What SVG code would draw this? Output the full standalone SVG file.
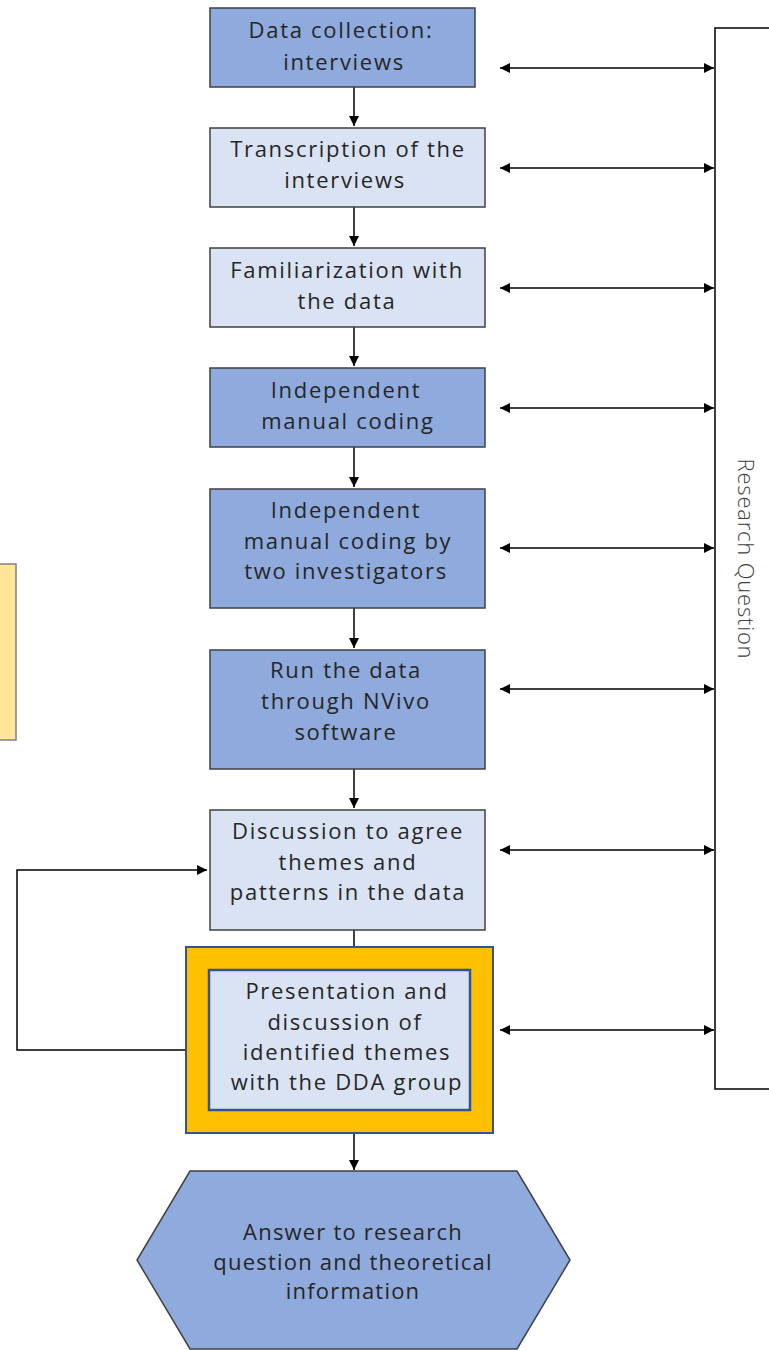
<svg xmlns="http://www.w3.org/2000/svg" width="769" height="1350" viewBox="0 0 769 1350">
<style>
.dark{fill:#8FAADC;stroke:#404040;stroke-width:1.5}
.light{fill:#DAE3F3;stroke:#404040;stroke-width:1.5}
.t{font-family:"Open Sans","Liberation Sans",sans-serif;font-size:22px;font-weight:500;fill:#262626;text-anchor:middle;letter-spacing:1.7px}
.h{letter-spacing:1.2px}
.c{fill:none;stroke:#000;stroke-width:1.5}
</style>
<defs>
<marker id="ah2" viewBox="0 0 10 10" refX="10" refY="5" markerWidth="11" markerHeight="10" markerUnits="userSpaceOnUse" orient="auto-start-reverse">
<path d="M0,0 L10,5 L0,10 z" fill="#000"/>
</marker>
</defs>
<g id="note">
<rect x="-5" y="564" width="21" height="176" fill="#FFE699" stroke="#7F7F7F" stroke-width="1.5"/>
</g>
<g id="connectors">
<path class="c" d="M354,87 V126" marker-end="url(#ah2)"/>
<path class="c" d="M354,207 V246" marker-end="url(#ah2)"/>
<path class="c" d="M354,327 V366" marker-end="url(#ah2)"/>
<path class="c" d="M354,447 V487" marker-end="url(#ah2)"/>
<path class="c" d="M354,608 V648" marker-end="url(#ah2)"/>
<path class="c" d="M354,769 V808" marker-end="url(#ah2)"/>
<path class="c" d="M354,930 V947"/>
<path class="c" d="M354,1133 V1170" marker-end="url(#ah2)"/>
<path class="c" d="M186,1050 H17 V870 H207" marker-end="url(#ah2)"/>
<path class="c" d="M769,28 H715 V1089 H769"/>
<path class="c" d="M500,68 H714" marker-start="url(#ah2)" marker-end="url(#ah2)"/>
<path class="c" d="M500,168 H714" marker-start="url(#ah2)" marker-end="url(#ah2)"/>
<path class="c" d="M500,288 H714" marker-start="url(#ah2)" marker-end="url(#ah2)"/>
<path class="c" d="M500,408 H714" marker-start="url(#ah2)" marker-end="url(#ah2)"/>
<path class="c" d="M500,548 H714" marker-start="url(#ah2)" marker-end="url(#ah2)"/>
<path class="c" d="M500,689 H714" marker-start="url(#ah2)" marker-end="url(#ah2)"/>
<path class="c" d="M500,850 H714" marker-start="url(#ah2)" marker-end="url(#ah2)"/>
<path class="c" d="M500,1030 H714" marker-start="url(#ah2)" marker-end="url(#ah2)"/>
</g>
<g id="n1">
<rect class="dark" x="210" y="8" width="265" height="79"/>
<text class="t" x="341" y="38">Data collection:</text>
<text class="t" x="344" y="70">interviews</text>
</g>
<g id="n2">
<rect class="light" x="210" y="128" width="275" height="79"/>
<text class="t" x="348" y="157">Transcription of the</text>
<text class="t" x="345" y="188">interviews</text>
</g>
<g id="n3">
<rect class="light" x="210" y="248" width="275" height="79"/>
<text class="t" x="347" y="278">Familiarization with</text>
<text class="t" x="347" y="309">the data</text>
</g>
<g id="n4">
<rect class="dark" x="210" y="368" width="275" height="79"/>
<text class="t" x="346" y="398">Independent</text>
<text class="t" x="348" y="429">manual coding</text>
</g>
<g id="n5">
<rect class="dark" x="210" y="489" width="275" height="119"/>
<text class="t" x="346" y="518">Independent</text>
<text class="t" x="348" y="549">manual coding by</text>
<text class="t" x="346" y="579">two investigators</text>
</g>
<g id="n6">
<rect class="dark" x="210" y="650" width="275" height="119"/>
<text class="t" x="346" y="678">Run the data</text>
<text class="t" x="346" y="709">through NVivo</text>
<text class="t" x="346" y="740">software</text>
</g>
<g id="n7">
<rect class="light" x="210" y="810" width="275" height="120"/>
<text class="t" x="348" y="839">Discussion to agree</text>
<text class="t" x="348" y="870">themes and</text>
<text class="t" x="348" y="900">patterns in the data</text>
</g>
<g id="n8">
<rect x="186" y="947" width="307" height="186" fill="#FFC000" stroke="#2F5597" stroke-width="2"/>
<rect x="209" y="970" width="261" height="140" fill="#DAE3F3" stroke="#2F5597" stroke-width="2.5"/>
<text class="t" x="347" y="999">Presentation and</text>
<text class="t" x="345" y="1030">discussion of</text>
<text class="t" x="347" y="1060">identified themes</text>
<text class="t" x="347" y="1090">with the DDA group</text>
</g>
<g id="n9">
<polygon points="190,1171 517,1171 570,1260 517,1349 190,1349 137,1260" fill="#8FAADC" stroke="#404040" stroke-width="1.5"/>
<text class="t h" x="353" y="1240">Answer to research</text>
<text class="t h" x="353" y="1270">question and theoretical</text>
<text class="t h" x="353" y="1299">information</text>
</g>
<g id="rq">
<text x="744" y="559" transform="rotate(90 744 559)" font-family="'Open Sans','Liberation Sans',sans-serif" font-size="22" font-weight="300" letter-spacing="0.8" fill="#404040" text-anchor="middle" dominant-baseline="middle">Research Question</text>
</g>
</svg>
